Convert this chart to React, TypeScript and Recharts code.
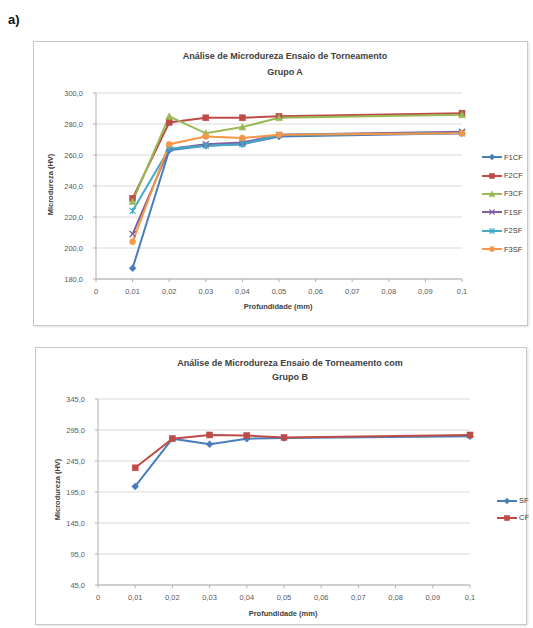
import React from 'react';
import { LineChart, Line, XAxis, YAxis, CartesianGrid, Legend } from 'recharts';

// ---------- data ----------
const depthA = [0.01, 0.02, 0.03, 0.04, 0.05, 0.1];
const f1cf = [187, 263, 266, 267, 272, 274];
const f2cf = [232, 281, 284, 284, 285, 287];
const f3cf = [230, 285, 274, 278, 284, 286];
const f1sf = [209, 264, 267, 268, 273, 275];
const f2sf = [224, 264, 266, 267, 273, 274];
const f3sf = [204, 267, 272, 271, 273, 274];

const depthB = [0.01, 0.02, 0.03, 0.04, 0.05, 0.1];
const sf = [204, 281, 272, 281, 282, 285];
const cf = [234, 281, 287, 286, 283, 287];

const xTicks = [0, 0.01, 0.02, 0.03, 0.04, 0.05, 0.06, 0.07, 0.08, 0.09, 0.1];
const yTicksA = [180, 200, 220, 240, 260, 280, 300];
const yTicksB = [45, 95, 145, 195, 245, 295, 345];

const titleA = ['Análise de Microdureza Ensaio de Torneamento', 'Grupo A'];
const titleB = ['Análise de Microdureza Ensaio de Torneamento com', 'Grupo B'];
const xTitle = 'Profundidade (mm)';
const yTitle = 'Microdureza (HV)';

type Shape = 'diamond' | 'square' | 'triangle' | 'x' | 'star' | 'circle';
interface Series { key: string; values: number[]; color: string; shape: Shape }

const seriesA: Series[] = [
  { key: 'F1CF', values: f1cf, color: '#4A7EBB', shape: 'diamond' },
  { key: 'F2CF', values: f2cf, color: '#BE4B48', shape: 'square' },
  { key: 'F3CF', values: f3cf, color: '#98B954', shape: 'triangle' },
  { key: 'F1SF', values: f1sf, color: '#7D60A0', shape: 'x' },
  { key: 'F2SF', values: f2sf, color: '#46AAC5', shape: 'star' },
  { key: 'F3SF', values: f3sf, color: '#F79646', shape: 'circle' },
];
const seriesB: Series[] = [
  { key: 'SF', values: sf, color: '#4A7EBB', shape: 'diamond' },
  { key: 'CF', values: cf, color: '#BE4B48', shape: 'square' },
];

const dataA = depthA.map((d, i) => {
  const row: Record<string, number> = { x: d };
  seriesA.forEach((s) => (row[s.key] = s.values[i]));
  return row;
});
const dataB = depthB.map((d, i) => {
  const row: Record<string, number> = { x: d };
  seriesB.forEach((s) => (row[s.key] = s.values[i]));
  return row;
});

const FONT = '"Liberation Sans", Arial, sans-serif';
const fmtX = (v: number) => (v === 0 ? '0' : String(Number(v.toFixed(2))).replace('.', ','));
const fmtY = (v: number) => v.toFixed(1).replace('.', ',');

function Marker({ shape, cx, cy, color, s = 3 }: { shape: Shape; cx: number; cy: number; color: string; s?: number }) {
  switch (shape) {
    case 'diamond':
      return <polygon points={`${cx},${cy - s - 0.5} ${cx + s + 0.5},${cy} ${cx},${cy + s + 0.5} ${cx - s - 0.5},${cy}`} fill={color} stroke={color} strokeWidth={0.5} />;
    case 'square':
      return <rect x={cx - s} y={cy - s} width={2 * s} height={2 * s} fill={color} stroke={color} strokeWidth={0.5} />;
    case 'triangle':
      return <polygon points={`${cx},${cy - s - 0.5} ${cx + s + 0.5},${cy + s} ${cx - s - 0.5},${cy + s}`} fill={color} stroke={color} strokeWidth={0.5} />;
    case 'x':
      return (
        <g stroke={color} strokeWidth={1.3}>
          <line x1={cx - s} y1={cy - s} x2={cx + s} y2={cy + s} />
          <line x1={cx - s} y1={cy + s} x2={cx + s} y2={cy - s} />
        </g>
      );
    case 'star':
      return (
        <g stroke={color} strokeWidth={1.2}>
          <line x1={cx - s} y1={cy - s} x2={cx + s} y2={cy + s} />
          <line x1={cx - s} y1={cy + s} x2={cx + s} y2={cy - s} />
          <line x1={cx} y1={cy - s} x2={cx} y2={cy + s} />
        </g>
      );
    default:
      return <circle cx={cx} cy={cy} r={s} fill={color} stroke={color} strokeWidth={0.5} />;
  }
}

function makeLegend(series: Series[], rowH: number) {
  return () => (
    <div style={{ fontFamily: FONT, fontSize: 7.5, color: '#404040' }}>
      {series.map((s) => (
        <div key={s.key} style={{ display: 'flex', alignItems: 'center', height: rowH }}>
          <svg width={20} height={10} style={{ marginRight: 2 }}>
            <line x1={0} y1={5} x2={20} y2={5} stroke={s.color} strokeWidth={2} />
            <Marker shape={s.shape} cx={10} cy={5} color={s.color} s={2.6} />
          </svg>
          <span>{s.key}</span>
        </div>
      ))}
    </div>
  );
}

function Chart({
  data, series, width, height, margin, yDomain, yTicks, legendPos, legendRow,
}: {
  data: Record<string, number>[]; series: Series[]; width: number; height: number;
  margin: { top: number; right: number; left: number; bottom: number };
  yDomain: [number, number]; yTicks: number[]; legendPos: { left: number; top: number }; legendRow: number;
}) {
  return (
    <LineChart width={width} height={height} data={data} margin={margin}>
      <CartesianGrid horizontal vertical={false} stroke="#d9d9d9" strokeWidth={1} />
      <XAxis
        dataKey="x" type="number" domain={[0, 0.1]} ticks={xTicks} tickFormatter={fmtX}
        interval={0} height={20} tickSize={3} tickMargin={7}
        axisLine={{ stroke: '#b0b0b0' }} tickLine={{ stroke: '#b0b0b0' }}
        tick={{ fontSize: 7.5, fill: '#595959', fontFamily: FONT }}
      />
      <YAxis
        type="number" domain={yDomain} ticks={yTicks} tickFormatter={fmtY} interval={0}
        width={margin.left === 0 ? 62 : 62} tickSize={3} tickMargin={10}
        axisLine={{ stroke: '#b0b0b0' }} tickLine={{ stroke: '#b0b0b0' }}
        tick={{ fontSize: 7.5, fill: '#595959', fontFamily: FONT }}
      />
      {series.map((s) => (
        <Line
          key={s.key} type="linear" dataKey={s.key} name={s.key} stroke={s.color} strokeWidth={2}
          isAnimationActive={false} activeDot={false}
          dot={(p: any) => (
            <Marker key={`${s.key}-${p.index}`} shape={s.shape} cx={p.cx} cy={p.cy} color={s.color} />
          )}
        />
      ))}
      <Legend
        layout="vertical" align="center" verticalAlign="middle"
        wrapperStyle={{ left: legendPos.left, top: legendPos.top, width: 50 }}
        content={makeLegend(series, legendRow)}
      />
    </LineChart>
  );
}

const frameStyle: React.CSSProperties = {
  position: 'absolute', border: '1px solid #c8c8c8', background: '#fff', boxSizing: 'border-box',
  boxShadow: '1px 1px 2px rgba(0,0,0,0.12)',
};
const titleStyle: React.CSSProperties = {
  position: 'absolute', fontFamily: FONT, fontWeight: 'bold', fontSize: 9, color: '#404040',
  textAlign: 'center', whiteSpace: 'nowrap',
};
const axisTitleStyle: React.CSSProperties = {
  position: 'absolute', fontFamily: FONT, fontWeight: 'bold', fontSize: 7.5, color: '#404040',
  whiteSpace: 'nowrap', textAlign: 'center',
};

export default function App() {
  return (
    <div style={{ position: 'absolute', left: 0, top: 0, width: 533, height: 628, background: '#fff', overflow: 'hidden' }}>
      <div style={{ position: 'absolute', left: 8, top: 12, fontFamily: FONT, fontWeight: 'bold', fontSize: 13, color: '#111' }}>a)</div>

      {/* Chart A */}
      <div style={{ ...frameStyle, left: 33, top: 41, width: 495, height: 285 }}>
        <Chart
          data={dataA} series={seriesA} width={493} height={283}
          margin={{ top: 51, right: 65, left: 0, bottom: 26 }}
          yDomain={[180, 300]} yTicks={yTicksA}
          legendPos={{ left: 448, top: 106 }} legendRow={18.4}
        />
      </div>
      <div style={{ ...titleStyle, left: 135, width: 300, top: 48, lineHeight: '16px' }}>
        {titleA[0]}<br />{titleA[1]}
      </div>
      <div style={{ ...axisTitleStyle, left: 198, width: 160, top: 302 }}>{xTitle}</div>
      <div style={{ ...axisTitleStyle, left: -30, width: 160, top: 180, transform: 'rotate(-90deg)' }}>{yTitle}</div>

      {/* Chart B */}
      <div style={{ ...frameStyle, left: 35, top: 347, width: 492, height: 278 }}>
        <Chart
          data={dataB} series={seriesB} width={490} height={276}
          margin={{ top: 51, right: 56, left: 0, bottom: 19 }}
          yDomain={[45, 345]} yTicks={yTicksB}
          legendPos={{ left: 461, top: 144 }} legendRow={17}
        />
      </div>
      <div style={{ ...titleStyle, left: 140, width: 300, top: 356, lineHeight: '14px' }}>
        {titleB[0]}<br />{titleB[1]}
      </div>
      <div style={{ ...axisTitleStyle, left: 203, width: 160, top: 609 }}>{xTitle}</div>
      <div style={{ ...axisTitleStyle, left: -23, width: 160, top: 485, transform: 'rotate(-90deg)' }}>{yTitle}</div>
    </div>
  );
}
